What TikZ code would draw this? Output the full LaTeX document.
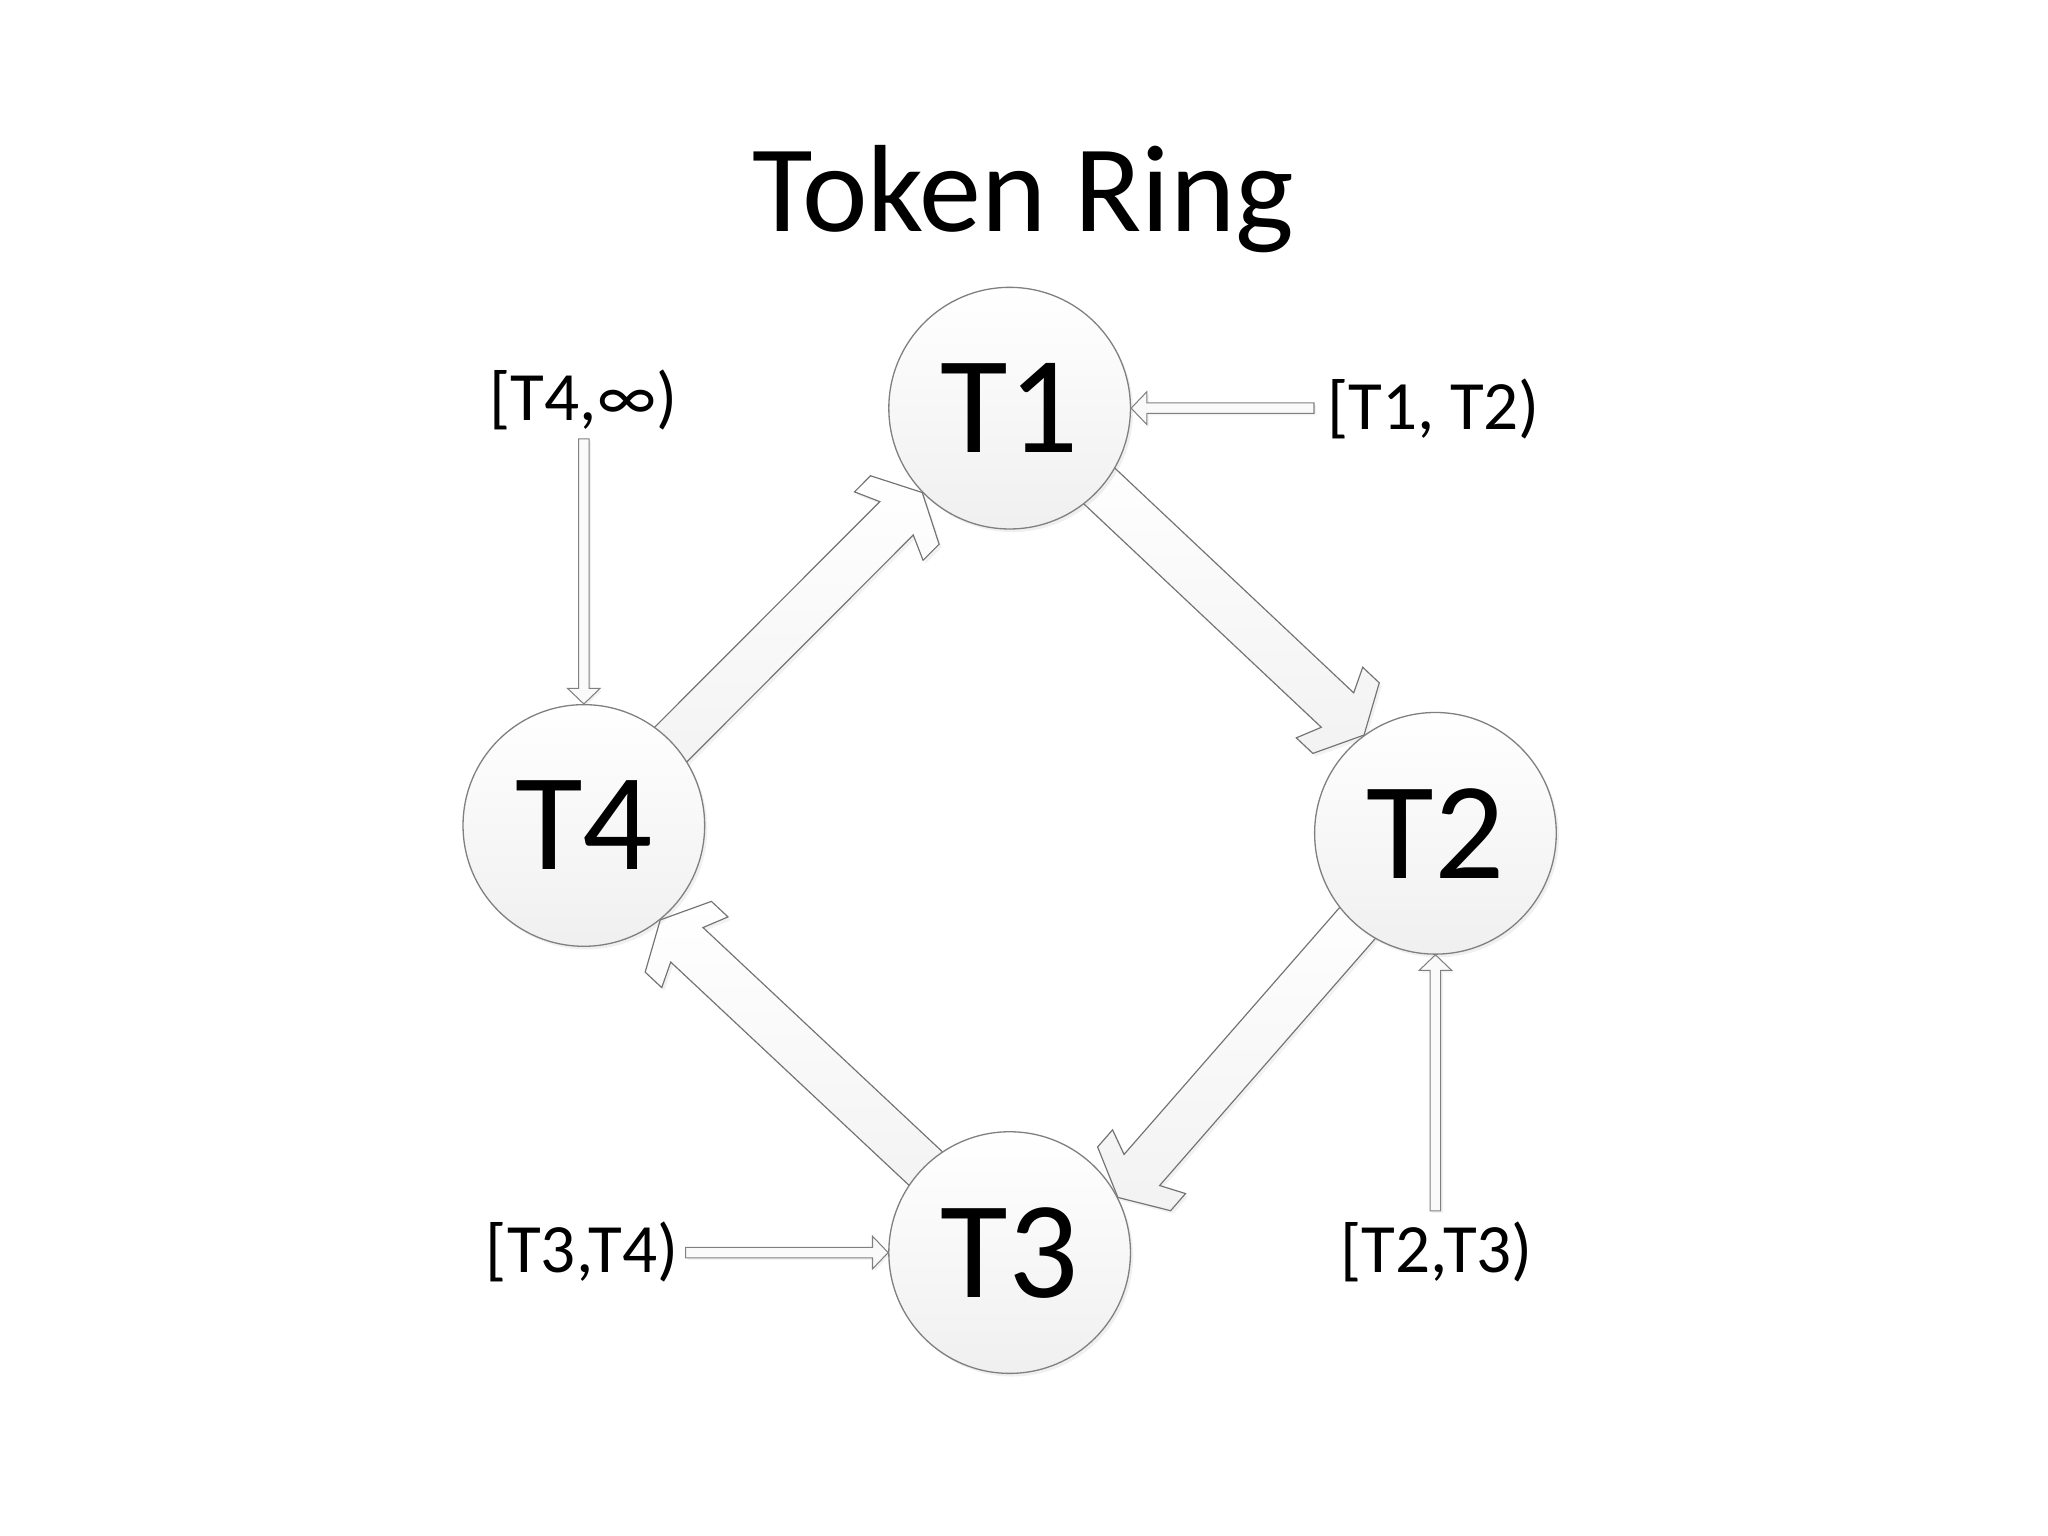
\documentclass[tikz,border=0pt]{standalone}
\usepackage{fontspec}
\setmainfont{Carlito}
\usetikzlibrary{calc,shadows,backgrounds}
\tikzset{
  station/.style={circle, minimum size=92.5pt, inner sep=0pt, draw=black!50,
    line width=0.5pt, top color=white, bottom color=black!6,
    font=\fontsize{53}{60}\selectfont,
    drop shadow={shadow xshift=1pt, shadow yshift=-1.2pt, opacity=0.12}},
  rangelabel/.style={anchor=base, inner sep=0pt, font=\fontsize{26.5}{30}\selectfont},
  ringshape/.style={draw=black!55, line width=0.45pt, top color=white, bottom color=black!5,
    drop shadow={shadow xshift=1pt, shadow yshift=-1.2pt, opacity=0.1}},
  feedshape/.style={draw=black!50, line width=0.4pt, fill=black!2,
    drop shadow={shadow xshift=0.8pt, shadow yshift=-0.8pt, opacity=0.1}},
}
\newcommand\ringarrow[2]{%
  \path[ringshape] (#2)
   -- ($(#2)!9.45pt!(#1)!18.55pt!90:(#1)$)
   -- ($(#2)!18.15pt!(#1)!18.55pt!90:(#1)$)
   -- ($(#2)!13.95pt!(#1)!9.05pt!90:(#1)$)
   -- ($(#1)!9.05pt!-90:(#2)$)
   -- ($(#1)!9.05pt!90:(#2)$)
   -- ($(#2)!13.95pt!(#1)!9.05pt!-90:(#1)$)
   -- ($(#2)!18.15pt!(#1)!18.55pt!-90:(#1)$)
   -- ($(#2)!9.45pt!(#1)!18.55pt!-90:(#1)$)
   -- cycle;}
\newcommand\feedarrow[2]{%
  \path[feedshape] (#2)
   -- ($(#2)!6pt!(#1)!6.25pt!90:(#1)$)
   -- ($(#2)!6pt!(#1)!2pt!90:(#1)$)
   -- ($(#1)!2pt!-90:(#2)$)
   -- ($(#1)!2pt!90:(#2)$)
   -- ($(#2)!6pt!(#1)!2pt!-90:(#1)$)
   -- ($(#2)!6pt!(#1)!6.25pt!-90:(#1)$)
   -- cycle;}
\begin{document}
\begin{tikzpicture}[x={(0.5pt,0pt)}, y={(0pt,-0.5pt)}]
\useasboundingbox (0,0) rectangle (1568,1176);
% title
\node[anchor=base, inner sep=0pt, font=\fontsize{47.5}{55}\selectfont] (title) at (783.5,177.4) {Token Ring};
% stations
\node[station] (T1) at (773,312.5) {T1};
\node[station] (T2) at (1099,638) {T2};
\node[station] (T3) at (773,959) {T3};
\node[station] (T4) at (447,632) {T4};
% labels
\node[rangelabel] (L12) at (1097.5,329.2) {[T1, T2)};
\node[rangelabel] (L4) at (446.6,321.6) {[T4,∞)};
\node[rangelabel] (L23) at (1099.8,974) {[T2,T3)};
\node[rangelabel] (L34) at (445.8,974.4) {[T3,T4)};
% feeder tails
\coordinate (f12) at (1006,312.5);
\coordinate (f4) at (447,336);
\coordinate (f23) at (1099,927);
\coordinate (f34) at (525,959);
% ring arrow ends
\coordinate (r1e) at (T1.224.1);
\coordinate (r1s) at ($(T4.43.9)!-14pt!(r1e)$);
\coordinate (r2e) at (T2.126.1);
\coordinate (r2s) at ($(T1.319.2)!-14pt!(r2e)$);
\coordinate (r3e) at (T3.27.8);
\coordinate (r3s) at ($(T2.229.2)!-14pt!(r3e)$);
\coordinate (r4e) at (T4.309.6);
\coordinate (r4s) at ($(T3.135.2)!-14pt!(r4e)$);
\begin{scope}[on background layer]
  \ringarrow{r1s}{r1e}
  \ringarrow{r2s}{r2e}
  \ringarrow{r3s}{r3e}
  \ringarrow{r4s}{r4e}
  \feedarrow{f12}{T1.east}
  \feedarrow{f4}{T4.north}
  \feedarrow{f23}{T2.south}
  \feedarrow{f34}{T3.west}
\end{scope}
\end{tikzpicture}
\end{document}
